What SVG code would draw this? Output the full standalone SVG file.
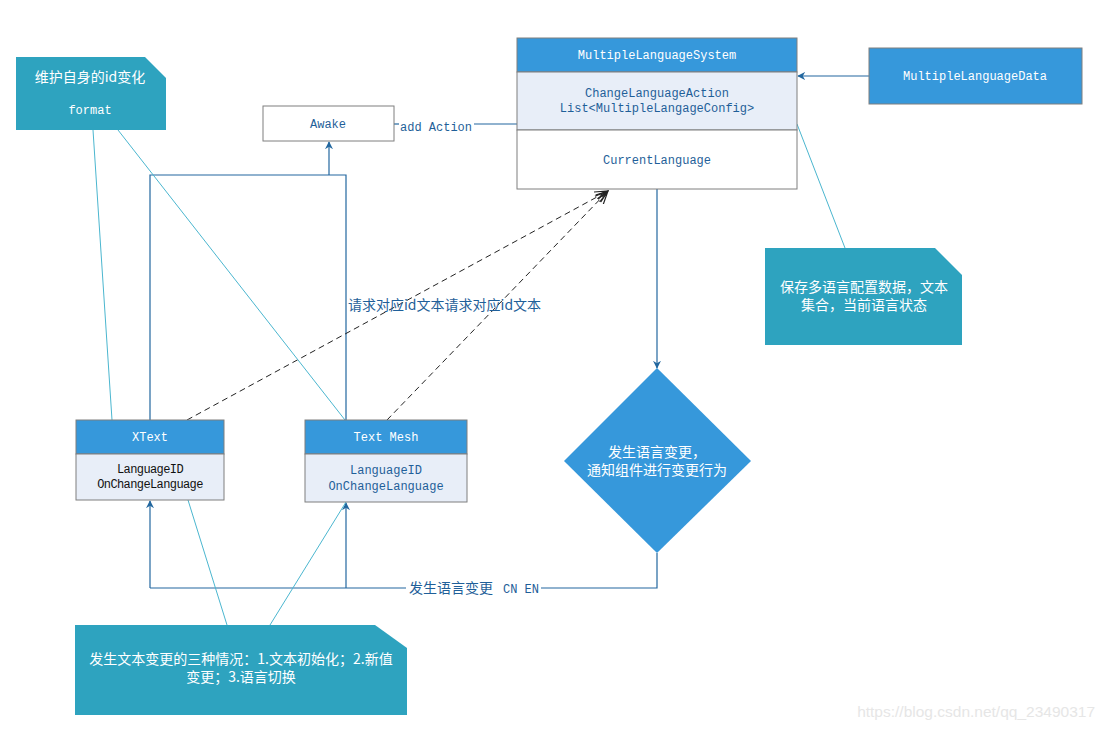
<svg xmlns="http://www.w3.org/2000/svg" width="1105" height="730" viewBox="0 0 1105 730">
<style>
.mono{font-family:"Liberation Mono","Noto Sans CJK SC",monospace;font-size:12px}
.cjk{font-family:"Noto Sans CJK SC","Noto Sans",sans-serif;font-size:14px}
.w{fill:#ffffff}
.b{fill:#1f5f99}
.k{fill:#111111}
.note{fill:#2ea3bf}
.hdr{fill:#3698db;stroke:#7f7f7f;stroke-width:1}
.body{fill:#e8eef8;stroke:#7f7f7f;stroke-width:1}
.plain{fill:#ffffff;stroke:#7f7f7f;stroke-width:1}
.conn{fill:none;stroke:#22679f;stroke-width:1.2}
.tl{fill:none;stroke:#4bb6cf;stroke-width:1}
.dash{fill:none;stroke:#222;stroke-width:1;stroke-dasharray:6,4}
</style>
<defs>
<marker id="arr" viewBox="0 0 10 10" refX="9" refY="5" markerWidth="8" markerHeight="8" orient="auto" markerUnits="userSpaceOnUse">
<path d="M0,0 L10,5 L0,10 L3,5 z" fill="#22679f"/>
</marker>
<marker id="open" viewBox="0 0 12 12" refX="11" refY="6" markerWidth="14" markerHeight="14" orient="auto" markerUnits="userSpaceOnUse">
<path d="M0,1 L11,6 L0,11 M0,4 L11,6 L0,8" fill="none" stroke="#222" stroke-width="1"/>
</marker>
</defs>
<rect width="1105" height="730" fill="#ffffff"/>

<g id="connectors">
<polyline class="conn" points="150,420 150,175 346,175 346,420"/>
<line class="conn" x1="329" y1="175" x2="329" y2="142" marker-end="url(#arr)"/>
<line class="conn" x1="394" y1="124" x2="399" y2="124"/>
<line class="conn" x1="474" y1="124" x2="517" y2="124"/>
<text class="mono b" x="400" y="131">add Action</text>
<line class="conn" x1="869" y1="76" x2="798" y2="76" marker-end="url(#arr)"/>
<line class="conn" x1="657" y1="189" x2="657" y2="368" marker-end="url(#arr)"/>
<polyline class="conn" points="657,553 657,588 541,588"/>
<line class="conn" x1="406" y1="588" x2="150" y2="588"/>
<line class="conn" x1="150" y1="588" x2="150" y2="501" marker-end="url(#arr)"/>
<line class="conn" x1="346" y1="588" x2="346" y2="503" marker-end="url(#arr)"/>
<text class="cjk b" x="409" y="593">发生语言变更</text>
<text class="mono b" x="503" y="593">CN EN</text>
<line class="dash" x1="187" y1="420" x2="608" y2="191" marker-end="url(#open)"/>
<line class="dash" x1="387" y1="420" x2="608" y2="191" marker-end="url(#open)"/>
<text class="cjk b" x="348" y="310">请求对应id文本请求对应id文本</text>
<line class="tl" x1="93" y1="130" x2="112" y2="420"/>
<line class="tl" x1="118" y1="130" x2="345" y2="420"/>
<line class="tl" x1="797" y1="124" x2="845" y2="248"/>
<line class="tl" x1="188" y1="500" x2="227" y2="625"/>
<line class="tl" x1="346" y1="502" x2="270" y2="625"/>
</g>

<g id="note-id">
<path class="note" d="M16,57 H145 L166,78 V130 H16 Z"/>
<text class="cjk w" x="90" y="82" text-anchor="middle">维护自身的id变化</text>
<text class="mono w" x="90" y="114" text-anchor="middle">format</text>
</g>

<g id="awake">
<rect class="plain" x="263" y="106" width="131" height="35"/>
<text class="mono b" x="328" y="128" text-anchor="middle">Awake</text>
</g>

<g id="system">
<rect class="hdr" x="517" y="38" width="280" height="34"/>
<rect class="body" x="517" y="72" width="280" height="58"/>
<rect class="plain" x="517" y="130" width="280" height="59"/>
<text class="mono w" x="657" y="59" text-anchor="middle">MultipleLanguageSystem</text>
<text class="mono b" x="657" y="97" text-anchor="middle">ChangeLanguageAction</text>
<text class="mono b" x="657" y="112" text-anchor="middle">List&lt;MultipleLangageConfig&gt;</text>
<text class="mono b" x="657" y="164" text-anchor="middle">CurrentLanguage</text>
</g>

<g id="data">
<rect class="hdr" x="869" y="48" width="213" height="56"/>
<text class="mono w" x="975" y="80" text-anchor="middle">MultipleLanguageData</text>
</g>

<g id="note-data">
<path class="note" d="M765,248 H935 L962,275 V345 H765 Z"/>
<text class="cjk w" x="864" y="292" text-anchor="middle">保存多语言配置数据，文本</text>
<text class="cjk w" x="864" y="310" text-anchor="middle">集合，当前语言状态</text>
</g>

<g id="diamond">
<polygon points="657,368 751,461 657,553 564,461" fill="#3698db"/>
<text class="cjk w" x="657" y="457" text-anchor="middle">发生语言变更，</text>
<text class="cjk w" x="657" y="475" text-anchor="middle">通知组件进行变更行为</text>
</g>

<g id="xtext">
<rect class="hdr" x="76" y="420" width="148" height="34"/>
<rect class="body" x="76" y="454" width="148" height="46"/>
<text class="mono w" x="150" y="441" text-anchor="middle">XText</text>
<text class="mono k" x="150" y="473" text-anchor="middle" letter-spacing="-0.6">LanguageID</text>
<text class="mono k" x="150" y="488" text-anchor="middle" letter-spacing="-0.6">OnChangeLanguage</text>
</g>

<g id="textmesh">
<rect class="hdr" x="305" y="420" width="162" height="34"/>
<rect class="body" x="305" y="454" width="162" height="48"/>
<text class="mono w" x="386" y="441" text-anchor="middle">Text Mesh</text>
<text class="mono b" x="386" y="474" text-anchor="middle">LanguageID</text>
<text class="mono b" x="386" y="490" text-anchor="middle">OnChangeLanguage</text>
</g>

<g id="note-cases">
<path class="note" d="M75,625 H375 L407,648 V715 H75 Z"/>
<text class="cjk w" x="241" y="664" text-anchor="middle">发生文本变更的三种情况：1.文本初始化；2.新值</text>
<text class="cjk w" x="241" y="682" text-anchor="middle">变更；3.语言切换</text>
</g>

<text x="1095" y="717" text-anchor="end" font-family="Liberation Sans, Arial, sans-serif" font-size="15.5" fill="#e6e6e6">https://blog.csdn.net/qq_23490317</text>
</svg>
